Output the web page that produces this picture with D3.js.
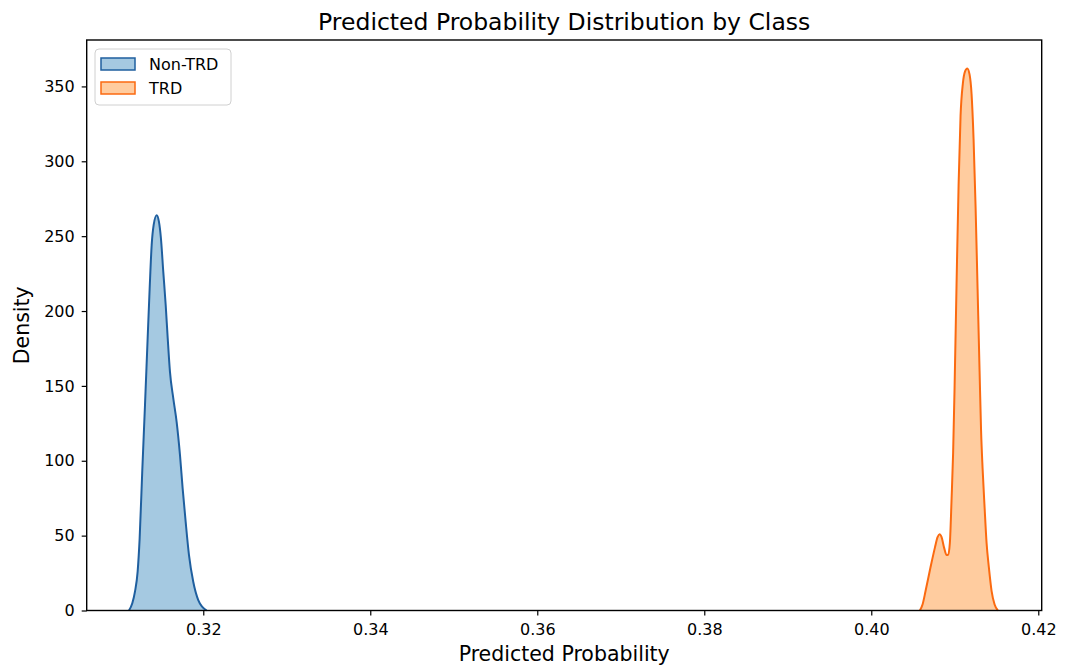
<!DOCTYPE html>
<html>
<head>
<meta charset="utf-8">
<script src="https://cdn.jsdelivr.net/npm/d3@7"></script>
<style>
  body { margin: 0; background: #fff; }
  text { font-family: "DejaVu Sans", sans-serif; fill: #000; }
</style>
</head>
<body>
<div id="chart"></div>
<script>
// KDE curves: predicted probability vs density
const nonTrdX = [0.31110, 0.31150, 0.31182, 0.31214, 0.31238, 0.31269, 0.31302, 0.31334, 0.31358,
  0.31382, 0.31406, 0.31442, 0.31469, 0.31493, 0.31521, 0.31550, 0.31574, 0.31601, 0.31641,
  0.31681, 0.31721, 0.31753, 0.31789, 0.31829, 0.31880, 0.31940, 0.32041]
const nonTrdY = [0, 4.8, 12.6, 26, 48, 92.7, 137, 182, 215,
  244, 257.5, 264, 259.7, 248.6, 226.3, 204, 182, 159.5, 141.7,
  126, 103.9, 81.6, 59.3, 37, 19.2, 7, 0]

const trdX = [0.40582, 0.40614, 0.40650, 0.40710, 0.40762, 0.40794, 0.40818, 0.40842, 0.40872,
  0.40902, 0.40920, 0.40941, 0.40962, 0.40980, 0.40998, 0.41022, 0.41046, 0.41069, 0.41097,
  0.41123, 0.41150, 0.41177, 0.41201, 0.41225, 0.41249, 0.41273, 0.41297, 0.41315, 0.41333,
  0.41357, 0.41381, 0.41408, 0.41441, 0.41477, 0.41516]
const trdY = [0, 4, 13, 29, 42, 49, 51, 49, 42,
  37, 37, 45, 75, 105, 150, 220, 285, 330, 352,
  360, 362, 358, 345, 315, 270, 215, 160, 120, 95,
  69, 45, 29, 13, 4, 0]

const classes = ['Non-TRD', 'TRD']
const lineColors = ['#1f5f9f', '#fb6a10']
const fillColors = ['#1f77b4', '#ff7f0e']

const xTicks = [0.32, 0.34, 0.36, 0.38, 0.40, 0.42]
const yTicks = [0, 50, 100, 150, 200, 250, 300, 350]

var width = 1066
var height = 667
var margin = { top: 40, right: 24.3, bottom: 56.5, left: 86.7 }
var innerW = width - margin.left - margin.right
var innerH = height - margin.top - margin.bottom

var svg = d3.select('#chart').append('svg')
  .attr('width', width)
  .attr('height', height)

var g = svg.append('g')
  .attr('transform', 'translate(' + margin.left + ',' + margin.top + ')')

var x = d3.scaleLinear().domain([0.30604, 0.42041]).range([0, innerW])
var y = d3.scaleLinear().domain([0, 381]).range([innerH, 0])

var series = [
  nonTrdX.map((v, i) => [v, nonTrdY[i]]),
  trdX.map((v, i) => [v, trdY[i]])
]

var area = d3.area()
  .x(d => x(d[0]))
  .y0(y(0))
  .y1(d => y(d[1]))
  .curve(d3.curveMonotoneX)

var line = d3.line()
  .x(d => x(d[0]))
  .y(d => y(d[1]))
  .curve(d3.curveMonotoneX)

series.forEach((s, i) => {
  g.append('path')
    .attr('d', area(s))
    .attr('fill', fillColors[i])
    .attr('fill-opacity', 0.4)
  g.append('path')
    .attr('d', line(s))
    .attr('fill', 'none')
    .attr('stroke', lineColors[i])
    .attr('stroke-width', 2)
})

// axes
var xAxis = g.append('g')
  .attr('transform', 'translate(0,' + innerH + ')')
  .call(d3.axisBottom(x).tickValues(xTicks).tickFormat(d3.format('.2f')).tickSize(5).tickPadding(8))
var yAxis = g.append('g')
  .call(d3.axisLeft(y).tickValues(yTicks).tickSize(5).tickPadding(7))

;[xAxis, yAxis].forEach(a => {
  a.select('.domain').remove()
  a.selectAll('.tick line').attr('stroke', '#000').attr('stroke-width', 1.2)
  a.selectAll('.tick text').style('font-size', '16px').style('font-family', 'DejaVu Sans').attr('fill', '#000')
})

// frame
g.append('rect')
  .attr('width', innerW)
  .attr('height', innerH)
  .attr('fill', 'none')
  .attr('stroke', '#000')
  .attr('stroke-width', 1.4)

// titles
svg.append('text')
  .attr('x', margin.left + innerW / 2)
  .attr('y', 30)
  .attr('text-anchor', 'middle')
  .style('font-size', '23.5px')
  .text('Predicted Probability Distribution by Class')

svg.append('text')
  .attr('x', margin.left + innerW / 2)
  .attr('y', 661)
  .attr('text-anchor', 'middle')
  .style('font-size', '20.5px')
  .text('Predicted Probability')

svg.append('text')
  .attr('transform', 'translate(29,' + (margin.top + innerH / 2) + ') rotate(-90)')
  .attr('text-anchor', 'middle')
  .style('font-size', '20.5px')
  .text('Density')

// legend
var legend = svg.append('g').attr('transform', 'translate(95,49)')
legend.append('rect')
  .attr('width', 136)
  .attr('height', 56)
  .attr('rx', 4)
  .attr('fill', '#fff')
  .attr('fill-opacity', 0.8)
  .attr('stroke', '#d0d0d0')
  .attr('stroke-width', 1)

classes.forEach((c, i) => {
  var row = legend.append('g').attr('transform', 'translate(6,' + (9 + i * 24) + ')')
  row.append('rect')
    .attr('width', 34)
    .attr('height', 12)
    .attr('fill', fillColors[i])
    .attr('fill-opacity', 0.4)
    .attr('stroke', lineColors[i])
    .attr('stroke-width', 1.5)
  row.append('text')
    .attr('x', 48)
    .attr('y', 12)
    .style('font-size', '16px')
    .text(c)
})
</script>
</body>
</html>
